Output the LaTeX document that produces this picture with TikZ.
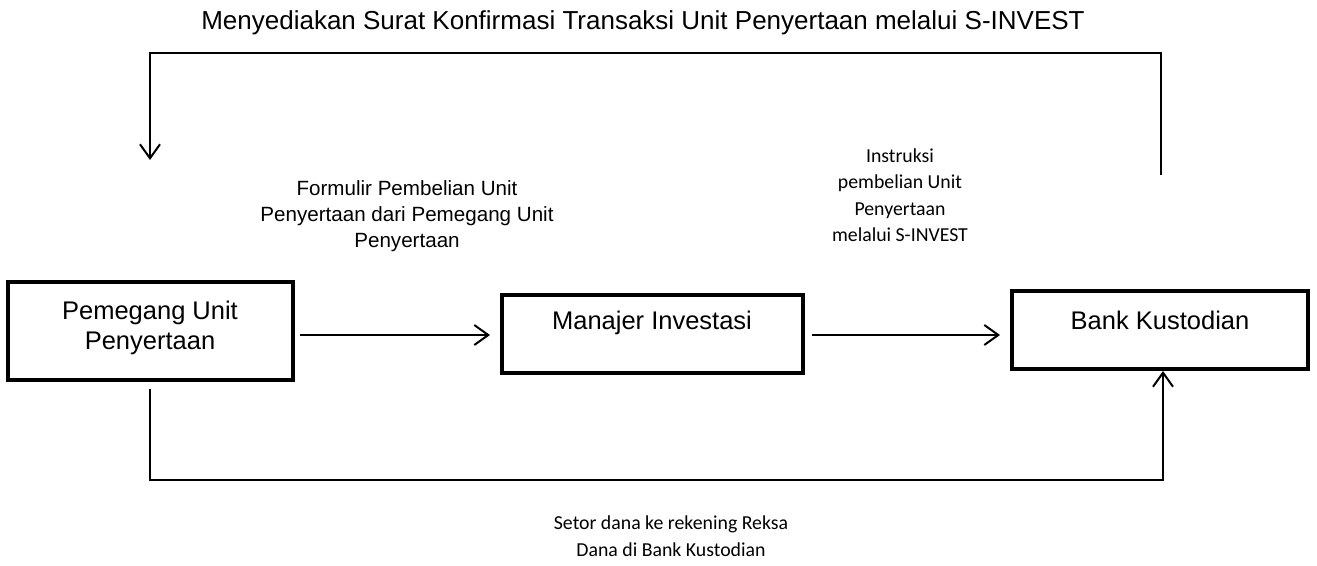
\documentclass[tikz,border=0pt]{standalone}
\usepackage{fontspec}
\setmainfont{Liberation Sans}
\newfontfamily\calfont{Carlito}
\usetikzlibrary{arrows.meta}
\begin{document}
\begin{tikzpicture}[x=1pt,y=-1pt,
  box/.style={draw,line width=4pt,inner sep=0pt,minimum width=#1},
  conn/.style={line width=2pt},
  arr/.style={conn,-{Straight Barb[length=14pt,width=20pt]}},
  bigtxt/.style={font=\fontsize{25.5}{30}\selectfont,align=center,inner sep=0pt},
  toptxt/.style={font=\fontsize{26}{30}\selectfont,inner sep=0pt},
  midtxt/.style={font=\fontsize{20.6}{26}\selectfont,align=center,inner sep=0pt},
  caltxt/.style={font=\calfont\fontsize{19.8}{26.5}\selectfont,align=center,inner sep=0pt}]
\useasboundingbox (0,0) rectangle (1317,565);
% boxes
\node[box=285pt,minimum height=98pt] (b1) at (150.5,331) {};
\node[box=301pt,minimum height=78pt] (b2) at (652.5,334) {};
\node[box=296pt,minimum height=78pt] (b3) at (1160,330) {};
% box texts
\node[bigtxt] (t1) at (150,328) {Pemegang Unit\\Penyertaan};
\node[bigtxt] (t2) at (652,323) {Manajer Investasi};
\node[bigtxt] (t3) at (1160,320) {Bank Kustodian};
% labels
\node[toptxt] (ttop) at (643,23) {Menyediakan Surat Konfirmasi Transaksi Unit Penyertaan melalui S-INVEST};
\node[midtxt] (tform) at (407,216) {Formulir Pembelian Unit\\Penyertaan dari Pemegang Unit\\Penyertaan};
\node[caltxt] (tinst) at (900,195) {Instruksi\\pembelian Unit\\Penyertaan\\melalui S-INVEST};
\node[caltxt] (tset) at (671,536) {Setor dana ke rekening Reksa\\Dana di Bank Kustodian};
% connectors
\draw[arr,shorten <=5pt,shorten >=10pt] (b1.east |- 0,335) -- (b2.west |- 0,335);
\draw[arr,shorten <=7pt,shorten >=10pt] (b2.east |- 0,335) -- (b3.west |- 0,335);
\coordinate (bl) at (150,480);
\coordinate (br) at (1163,480);
\draw[arr] ([yshift=-7pt]bl |- b1.south) -- (bl) -- (br) -- (br |- b3.south);
\coordinate (ts) at (1161,175);
\coordinate (tr) at (1161,53);
\coordinate (tl) at (150,53);
\coordinate (te) at (150,160);
\draw[arr] (ts) -- (tr) -- (tl) -- (te);
\end{tikzpicture}
\end{document}
